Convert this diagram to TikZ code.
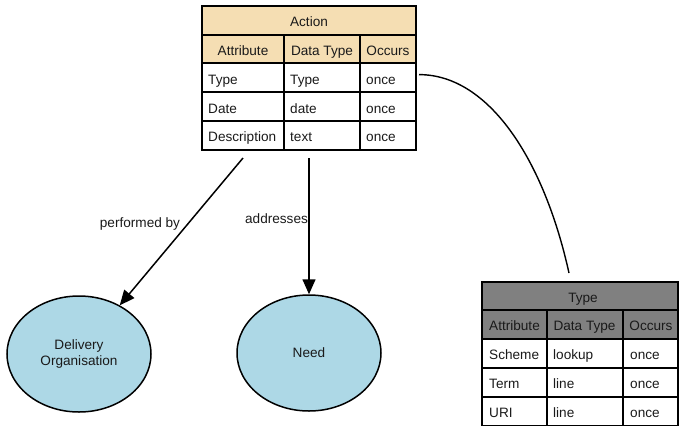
\documentclass[tikz,border=0pt]{standalone}
\usepackage{fontspec}
\setmainfont{Liberation Sans}
\usetikzlibrary{arrows.meta,shapes.geometric,calc}
\definecolor{wheat}{HTML}{F5DEB3}
\definecolor{hdrgray}{HTML}{808080}
\definecolor{nodeblue}{HTML}{ADD8E6}
\definecolor{txt}{HTML}{1A1A1A}
\begin{document}
\begin{tikzpicture}[x=1pt,y=-1pt, font=\fontsize{13.6}{16}\selectfont, text=txt,
  cellL/.style={anchor=base west, inner sep=0pt},
  cellC/.style={anchor=base, inner sep=0pt},
  grid/.style={draw=black, line width=1.3pt},
  tbl/.style={inner sep=0pt, outer sep=0pt},
  ent/.style={ellipse, draw=black, line width=1.5pt, fill=nodeblue, minimum width=144pt, minimum height=116pt, align=center, inner sep=0pt},
  rel/.style={draw=black, line width=1.5pt, -{Triangle[length=15pt,width=13pt]}},
  lbl/.style={inner sep=0pt, anchor=base}]
\useasboundingbox (0,0) rectangle (680,426);

% ---------- Action table ----------
\node[tbl, minimum width=214pt, minimum height=144pt] (action) at (309,78) {};
\fill[wheat] (202,6) rectangle (416,63);
\draw[grid] (202,6) rectangle (416,150);
\foreach \y in {35,63,92,121} \draw[grid] (202,\y) -- (416,\y);
\foreach \x in {284,360} \draw[grid] (\x,35) -- (\x,150);
\node[cellC] (aTitle) at (309,26.7) {Action};
\node[cellC] (aH1) at (243,55.3) {Attribute};
\node[cellC] (aH2) at (322,55.3) {Data Type};
\node[cellC] (aH3) at (388,55.3) {Occurs};
\node[cellL] (aR1c1) at (208,84.2) {Type};
\node[cellL] (aR1c2) at (290,84.2) {Type};
\node[cellL] (aR1c3) at (366,84.2) {once};
\node[cellL] (aR2c1) at (208,113.2) {Date};
\node[cellL] (aR2c2) at (290,113.2) {date};
\node[cellL] (aR2c3) at (366,113.2) {once};
\node[cellL] (aR3c1) at (208,141.8) {Description};
\node[cellL] (aR3c2) at (290,141.8) {text};
\node[cellL] (aR3c3) at (366,141.8) {once};

% ---------- Type table ----------
\node[tbl, minimum width=196pt, minimum height=144pt] (typ) at (580,354) {};
\fill[hdrgray] (482,282) rectangle (678,339);
\draw[grid] (482,282) rectangle (678,425.3);
\foreach \y in {310,339,368,397} \draw[grid] (482,\y) -- (678,\y);
\foreach \x in {547,623} \draw[grid] (\x,310) -- (\x,425.3);
\node[cellC] (tTitle) at (583,302.3) {Type};
\node[cellC] (tH1) at (514.5,330.8) {Attribute};
\node[cellC] (tH2) at (584.5,330.8) {Data Type};
\node[cellC] (tH3) at (651,330.8) {Occurs};
\node[cellL] (tR1c1) at (489,359.8) {Scheme};
\node[cellL] (tR1c2) at (553,359.8) {lookup};
\node[cellL] (tR1c3) at (630,359.8) {once};
\node[cellL] (tR2c1) at (489,388.8) {Term};
\node[cellL] (tR2c2) at (553,388.8) {line};
\node[cellL] (tR2c3) at (630,388.8) {once};
\node[cellL] (tR3c1) at (489,417.8) {URI};
\node[cellL] (tR3c2) at (553,417.8) {line};
\node[cellL] (tR3c3) at (630,417.8) {once};

% ---------- ellipses ----------
\node[ent] (deliv) at (79,354) {Delivery\\Organisation};
\node[ent] (need) at (309,353) {Need};

% ---------- connectors ----------
\coordinate (pbStart) at ($(action.south)+(-66,8)$);
\coordinate (adStart) at ($(action.south)+(0,8)$);
\draw[rel] (pbStart) -- (deliv);
\draw[rel] (adStart) -- (need);
\node[lbl] (pbLbl) at (140,227) {performed by};
\node[lbl] (adLbl) at (276.5,223) {addresses};

\coordinate (cStart) at ($(action.east |- aR1c3)+(3,-6)$);
\coordinate (cEnd) at ($(typ.north)+(-11,-9)$);
\draw[line width=1.4pt] (cStart) .. controls +(70,0) and +(-25,-113) .. (cEnd);
\end{tikzpicture}
\end{document}
